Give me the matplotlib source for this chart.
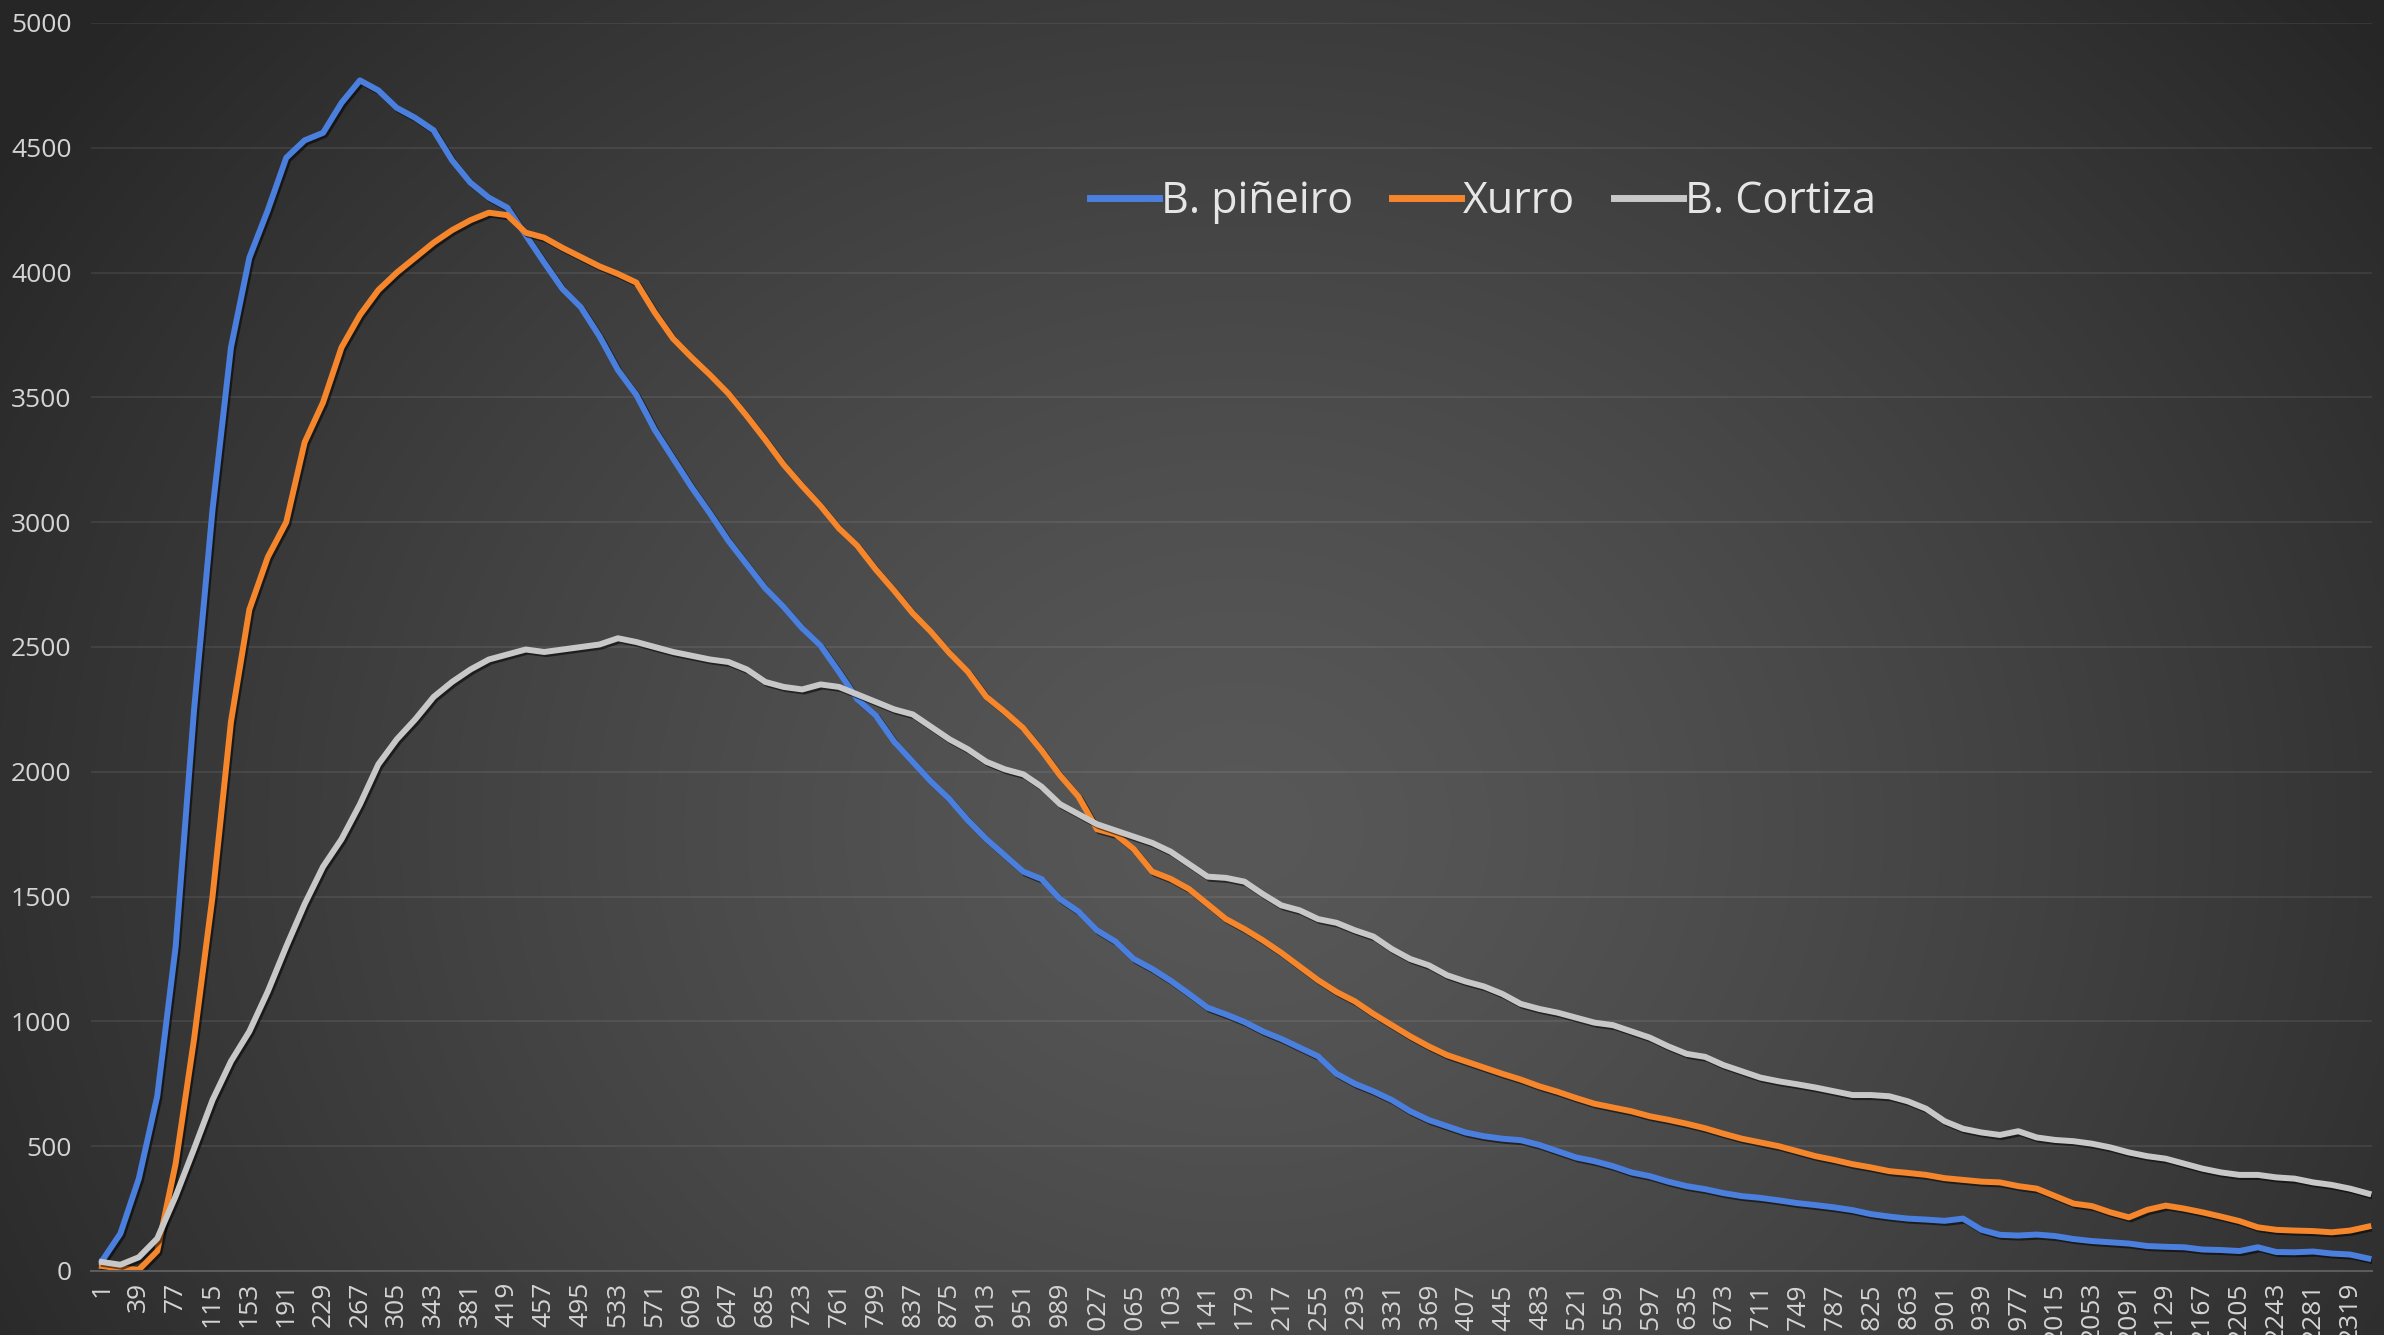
import numpy as np
import matplotlib
matplotlib.use('Agg')
import matplotlib.pyplot as plt
import matplotlib.patheffects as pe

plt.rcParams['font.family'] = ['Open Sans', 'DejaVu Sans']

# readings every 19 samples, starting at sample 1
step = 19
pineiro = [40, 150, 370, 700, 1300, 2250, 3050, 3700, 4060, 4250,
           4460, 4530, 4560, 4680, 4770, 4730, 4660, 4620, 4570, 4450,
           4360, 4300, 4260, 4150, 4040, 3934, 3860, 3745, 3610, 3510,
           3370, 3255, 3140, 3035, 2925, 2830, 2735, 2660, 2575, 2505,
           2400, 2290, 2225, 2120, 2040, 1960, 1890, 1805, 1730, 1665,
           1600, 1570, 1490, 1440, 1365, 1320, 1250, 1210, 1163, 1110,
           1055, 1028, 998, 960, 930, 895, 860, 790, 750, 720,
           685, 640, 605, 580, 555, 540, 530, 524, 505, 480,
           455, 440, 420, 395, 380, 358, 340, 328, 312, 300,
           293, 283, 272, 264, 255, 244, 228, 218, 210, 206,
           201, 210, 165, 145, 142, 146, 140, 128, 120, 115,
           110, 100, 97, 95, 86, 84, 80, 95, 76, 75,
           78, 70, 66, 50]
xurro = [20, 10, 5, 80, 430, 930, 1500, 2200, 2650, 2860,
         3000, 3320, 3480, 3700, 3830, 3930, 4000, 4060, 4120, 4170,
         4210, 4240, 4230, 4160, 4140, 4099, 4062, 4025, 3995, 3960,
         3840, 3735, 3660, 3590, 3515, 3425, 3330, 3230, 3145, 3065,
         2975, 2905, 2810, 2725, 2635, 2560, 2475, 2400, 2300, 2240,
         2175, 2085, 1985, 1900, 1770, 1750, 1690, 1600, 1571, 1530,
         1470, 1410, 1370, 1325, 1275, 1220, 1165, 1118, 1080, 1030,
         985, 940, 900, 865, 840, 815, 790, 767, 740, 718,
         693, 670, 655, 640, 620, 606, 590, 572, 550, 530,
         515, 500, 480, 460, 445, 428, 415, 400, 393, 385,
         372, 365, 358, 355, 340, 330, 300, 270, 260, 235,
         215, 245, 262, 250, 235, 218, 200, 175, 165, 162,
         160, 155, 162, 178]
cortiza = [36, 25, 55, 130, 300, 490, 685, 840, 960, 1120,
           1300, 1470, 1620, 1730, 1870, 2030, 2130, 2210, 2300, 2360,
           2410, 2450, 2470, 2490, 2480, 2490, 2500, 2510, 2535, 2520,
           2500, 2480, 2465, 2450, 2440, 2410, 2360, 2340, 2330, 2350,
           2340, 2310, 2280, 2250, 2230, 2180, 2130, 2090, 2040, 2010,
           1990, 1940, 1870, 1830, 1790, 1765, 1740, 1715, 1680, 1630,
           1580, 1575, 1560, 1510, 1465, 1445, 1410, 1395, 1365, 1340,
           1290, 1250, 1225, 1185, 1160, 1140, 1110, 1070, 1050, 1035,
           1015, 995, 985, 960, 935, 900, 870, 858, 825, 800,
           775, 760, 748, 735, 720, 705, 705, 700, 680, 650,
           600, 570, 555, 545, 560, 535, 525, 520, 510, 495,
           475, 460, 450, 430, 410, 395, 385, 385, 375, 370,
           355, 345, 330, 310]
labels = ['B. piñeiro', 'Xurro', 'B. Cortiza']
colors = ['#4a7fde', '#f5862c', '#c8c8c8']
tick_cats = list(range(1, 2320, 38))

samples = 1 + step * np.arange(len(pineiro))

fig = plt.figure(figsize=(23.84, 13.35), dpi=100)

# dark radial backdrop
bg = fig.add_axes([0, 0, 1, 1], zorder=-10)
yy, xx = np.mgrid[0:1:400j, 0:1:700j]
d = np.sqrt(((xx - 0.52) / 0.62) ** 2 + ((yy - 0.62) / 0.95) ** 2)
shade = 88 - 50 * np.clip(d, 0, 1) ** 1.3
rgb = np.dstack([shade, shade, shade]) / 255.0
bg.imshow(rgb, aspect='auto', extent=[0, 1, 0, 1], origin='upper',
          interpolation='bilinear')
bg.axis('off')

ax = fig.add_axes([91 / 2384, 64 / 1335, 2281 / 2384, 1248 / 1335])
ax.set_facecolor('none')

shadow = [pe.SimpleLineShadow(offset=(1.5, -1.5), shadow_color='black', alpha=0.55),
          pe.Normal()]
for vals, lab, col in zip([pineiro, xurro, cortiza], labels, colors):
    ax.plot(samples, vals, color=col, lw=4.3, label=lab,
            solid_joinstyle='round', path_effects=shadow)

ax.set_xlim(-10.3, 2341.7)
ax.set_ylim(0, 5000)
ax.set_yticks(range(0, 5001, 500))
ax.set_xticks(tick_cats)
ax.set_xticklabels([str(c) for c in tick_cats], rotation=90, va='top', ha='center')
ax.tick_params(axis='both', length=0, colors='#d4d4d4', labelsize=19)
ax.tick_params(axis='x', pad=8)
ax.tick_params(axis='y', pad=14)
ax.grid(axis='y', color='white', alpha=0.09, lw=1.2)
ax.set_axisbelow(True)
for s in ['top', 'right', 'left']:
    ax.spines[s].set_visible(False)
ax.spines['bottom'].set_color('#5c5c5c')
ax.spines['bottom'].set_linewidth(1.5)

leg = fig.legend(loc='center', bbox_to_anchor=(0.622, 0.849), ncol=3,
                 frameon=False, fontsize=31, handlelength=1.6,
                 handletextpad=0.05, columnspacing=0.9)
for t in leg.get_texts():
    t.set_color('#e6e6e6')
for h in leg.get_lines():
    h.set_linewidth(5)
    h.set_path_effects([])

fig.savefig('out.png', dpi=100)
